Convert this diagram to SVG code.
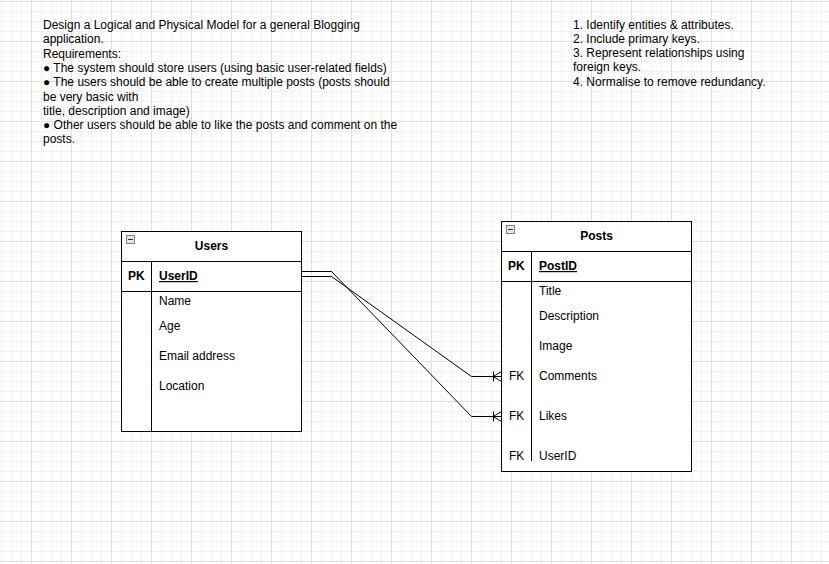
<svg xmlns="http://www.w3.org/2000/svg" width="829" height="564" viewBox="0 0 829 564">
<style>
text{font-family:"Liberation Sans",Arial,sans-serif;font-size:12px;fill:#000}
.b{font-weight:bold}
.u{text-decoration:underline}
.box{fill:#fff;stroke:#000;stroke-width:1}
.ln{fill:none;stroke:#000;stroke-width:1}
.edge{fill:none;stroke:#000;stroke-width:1}
.icon{fill:#e6e6e6;stroke:#808080;stroke-width:1}
</style>
<defs>
<pattern id="grid" x="31" y="1" width="40" height="40" patternUnits="userSpaceOnUse">
<path d="M10.5 0V40M20.5 0V40M30.5 0V40M0 10.5H40M0 20.5H40M0 30.5H40" stroke="#f2f2f2" stroke-width="1" fill="none"/>
<path d="M0.5 0V40M0 0.5H40" stroke="#e0e0e0" stroke-width="1" fill="none"/>
</pattern>
</defs>
<rect width="829" height="564" fill="#fff"/>
<rect width="829" height="564" fill="url(#grid)"/>

<g id="task-text">
<text x="43" y="29">Design a Logical and Physical Model for a general Blogging</text>
<text x="43" y="43">application.</text>
<text x="43" y="57.5">Requirements:</text>
<text x="43" y="72">● The system should store users (using basic user-related fields)</text>
<text x="43" y="86.3">● The users should be able to create multiple posts (posts should</text>
<text x="43" y="100.6">be very basic with</text>
<text x="43" y="114.6">title, description and image)</text>
<text x="43" y="129.2">● Other users should be able to like the posts and comment on the</text>
<text x="43" y="143.4">posts.</text>
</g>

<g id="steps-text">
<text x="573" y="29">1. Identify entities &amp; attributes.</text>
<text x="573" y="43">2. Include primary keys.</text>
<text x="573" y="57">3. Represent relationships using</text>
<text x="573" y="71">foreign keys.</text>
<text x="573" y="85.5">4. Normalise to remove redundancy.</text>
</g>

<g id="users">
<rect class="box" x="121.5" y="231.5" width="180" height="200"/>
<path class="ln" d="M121.5 261.5H301.5M121.5 291.5H301.5M151.5 261.5V431.5"/>
<rect class="icon" x="126.5" y="235.5" width="8" height="8"/>
<path d="M128 239.5H133" stroke="#333" stroke-width="1"/>
<text class="b" x="211.5" y="250" text-anchor="middle">Users</text>
<text class="b" x="128" y="280">PK</text>
<text class="b u" x="159" y="280">UserID</text>
<text x="159" y="305">Name</text>
<text x="159" y="330">Age</text>
<text x="159" y="359.5">Email address</text>
<text x="159" y="389.5">Location</text>
</g>

<g id="posts">
<rect class="box" x="501.5" y="221.5" width="190" height="250"/>
<path class="ln" d="M501.5 251.5H691.5M501.5 281.5H691.5M531.5 251.5V461"/>
<rect class="icon" x="506.5" y="225.5" width="8" height="8"/>
<path d="M508 229.5H513" stroke="#333" stroke-width="1"/>
<text class="b" x="596.5" y="240" text-anchor="middle">Posts</text>
<text class="b" x="508" y="270">PK</text>
<text class="b u" x="539" y="270">PostID</text>
<text x="539" y="295">Title</text>
<text x="539" y="320">Description</text>
<text x="539" y="349.5">Image</text>
<text x="509" y="380">FK</text>
<text x="539" y="380">Comments</text>
<text x="509" y="420">FK</text>
<text x="539" y="420">Likes</text>
<text x="509" y="460">FK</text>
<text x="539" y="460">UserID</text>
</g>

<g id="connectors">
<path class="edge" d="M301.5 271.5H331.5L471.5 416.5H501.5"/>
<path class="edge" d="M493.5 411.5V421.5M493 416.5L501.5 411.5M493 416.5L501.5 421.5"/>
<path class="edge" d="M301.5 276.5H331.5L471.5 376.5H501.5"/>
<path class="edge" d="M493.5 371.5V381.5M493 376.5L501.5 371.5M493 376.5L501.5 381.5"/>
</g>
</svg>
